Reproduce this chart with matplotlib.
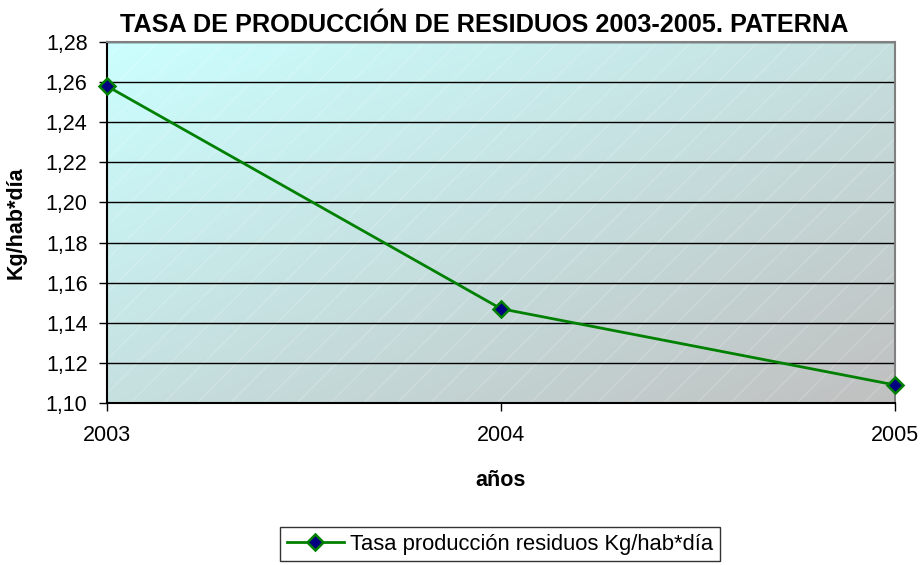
import matplotlib
matplotlib.use("Agg")
import matplotlib.pyplot as plt
import numpy as np
from matplotlib.patches import Rectangle

years = ["2003", "2004", "2005"]
values = [1.258, 1.147, 1.109]
yticks = [1.10, 1.12, 1.14, 1.16, 1.18, 1.20, 1.22, 1.24, 1.26, 1.28]
title = "TASA DE PRODUCCIÓN DE RESIDUOS 2003-2005. PATERNA"
series_label = "Tasa producción residuos Kg/hab*día"

plt.rcParams['font.family'] = ['Liberation Sans', 'DejaVu Sans']

fig = plt.figure(figsize=(9.22, 5.65), dpi=100)
W, H = 922, 565
ax = fig.add_axes([107 / W, 1 - 403 / H, (895 - 107) / W, (403 - 42) / H])

# gradient background: light cyan top-left -> grey bottom-right
n = 200
xx, yy = np.meshgrid(np.linspace(0, 1, n), np.linspace(0, 1, n))
t = (xx + yy) / 2.0  # origin upper: row 0 at top
c0 = np.array([204, 255, 255]) / 255.0
c1 = np.array([192, 192, 192]) / 255.0
img = c0[None, None, :] * (1 - t[..., None]) + c1[None, None, :] * t[..., None]
ax.imshow(img, extent=[0, 1, 0, 1], transform=ax.transAxes, aspect='auto',
          origin='upper', zorder=0)
# subtle diagonal texture
ax.add_patch(Rectangle((0, 0), 1, 1, transform=ax.transAxes, facecolor='none',
                       edgecolor=(1, 1, 1, 0.18), hatch='/', linewidth=0, zorder=0.5))

x = np.arange(len(years))
ax.plot(x, values, color='#008000', linewidth=2, marker='D', markersize=8,
        markerfacecolor='#000080', markeredgecolor='#008000', markeredgewidth=1.8,
        zorder=5, clip_on=False, label=series_label)

ax.set_xlim(0, len(years) - 1)
ax.set_ylim(yticks[0], yticks[-1])
ax.set_yticks(yticks)
ax.set_yticklabels([f"{v:.2f}".replace('.', ',') for v in yticks])
ax.set_xticks(x)
ax.set_xticklabels(years)
ax.yaxis.grid(True, color='black', linewidth=1)
for gl in ax.get_ygridlines():
    gl.set_zorder(2)

ax.tick_params(axis='both', labelsize=15.5, direction='out', length=6, width=1,
               colors='black')
ax.tick_params(axis='x', pad=10)
ax.tick_params(axis='y', pad=8)

for s in ['left', 'bottom']:
    ax.spines[s].set_color('black')
    ax.spines[s].set_linewidth(1.5)
for s in ['top', 'right']:
    ax.spines[s].set_color('#808080')
    ax.spines[s].set_linewidth(1.5)

ax.set_xlabel("años", fontsize=15.5, fontweight='bold', labelpad=17)
ax.set_ylabel("Kg/hab*día", fontsize=15.5, fontweight='bold', labelpad=14)

fig.text(484 / W, 1 - 25 / H, title, ha='center', va='center', fontsize=18.2,
         fontweight='bold')

leg = fig.legend(loc='upper left', bbox_to_anchor=(280 / W, 1 - 527 / H),
                 fontsize=15.8, frameon=True, fancybox=False, borderpad=0.3,
                 handlelength=2.6, handletextpad=0.3, borderaxespad=0)
leg.get_frame().set_edgecolor('black')
leg.get_frame().set_linewidth(1)

fig.savefig("out.png", dpi=100)
